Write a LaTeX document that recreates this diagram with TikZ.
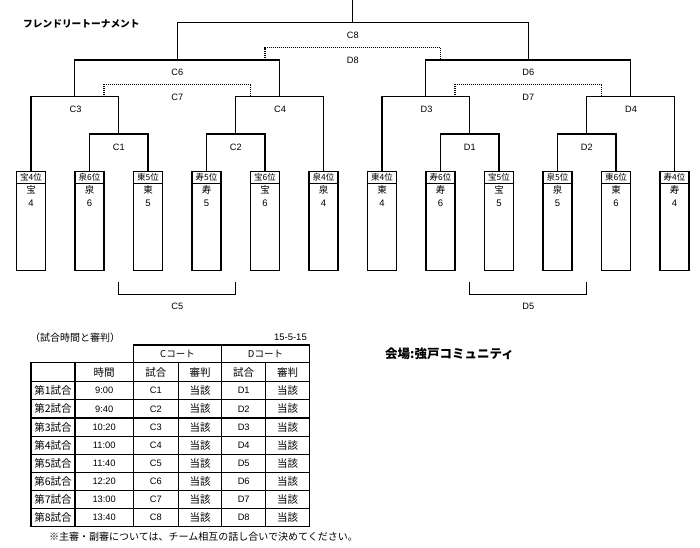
\documentclass[tikz,border=0pt]{standalone}
\usepackage{fontspec}
\setmainfont{Liberation Sans}
\newfontfamily\jp{Noto Sans CJK JP}
\usetikzlibrary{calc}
\newcommand{\fsz}[1]{\fontsize{#1}{#1}\selectfont}
\begin{document}
\begin{tikzpicture}[x=1pt,y=-1pt,
  br/.style={line width=1.1pt},
  dotl/.style={line width=1.1pt, dash pattern=on 1.1pt off 0.9pt},
  lab/.style={inner sep=0pt, font=\fsz{9.2}},
  hdr/.style={draw, line width=1pt, minimum width=29pt, minimum height=12.3pt, inner sep=0pt, anchor=north, font=\jp\fsz{8.5}},
  body/.style={draw, line width=1.2pt, minimum width=29pt, minimum height=99pt, inner sep=0pt, anchor=north},
  bt/.style={inner sep=0pt, font=\jp\fsz{9.5}},
  bn/.style={inner sep=0pt, font=\fsz{9.5}},
  thk/.style={line width=1.5pt},
  thn/.style={line width=0.9pt},
  tj/.style={inner sep=0pt, font=\jp\fsz{10.5}},
  tl/.style={inner sep=0pt, font=\fsz{9.3}}
]
\useasboundingbox (0,0) rectangle (700,547);

% title
\node[anchor=west, inner sep=0pt, font=\jp\bfseries\fsz{9.7}] (title) at (23,24) {フレンドリートーナメント};

% team boxes
\foreach \i/\h/\t/\n in {0/宝4位/宝/4, 1/泉6位/泉/6, 2/東5位/東/5, 3/寿5位/寿/5, 4/宝6位/宝/6, 5/泉4位/泉/4, 6/東4位/東/4, 7/寿6位/寿/6, 8/宝5位/宝/5, 9/泉5位/泉/5, 10/東6位/東/6, 11/寿4位/寿/4}{
  \node[body] (b\i) at ({31+58.5*\i},171) {};
  \node[hdr] (h\i) at (b\i.north) {\h};
  \node[bt] (t\i) at ($(b\i.north)+(0,19)$) {\t};
  \node[bn] (n\i) at ($(b\i.north)+(0,32)$) {\n};
}

% bracket junctions
\coordinate (m1) at (118.75,134);
\coordinate (m2) at (235.75,134);
\coordinate (m3) at (74.875,96.7);
\coordinate (m4) at (279.625,96.7);
\coordinate (m6) at (177.25,60);
\coordinate (d1) at (469.75,134);
\coordinate (d2) at (586.75,134);
\coordinate (d3) at (425.875,96.7);
\coordinate (d4) at (630.625,96.7);
\coordinate (d6) at (528.25,60);
\coordinate (top) at (352.75,22.5);
\coordinate (topend) at (352.75,-1);

\draw[br] (b1.north) |- (m1) -| (b2.north);
\draw[br] (b3.north) |- (m2) -| (b4.north);
\draw[br] (b0.north) |- (m3) -| (m1);
\draw[br] (m2) |- (m4) -| (b5.north);
\draw[br] (m3) |- (m6) -| (m4);
\draw[br] (b7.north) |- (d1) -| (b8.north);
\draw[br] (b9.north) |- (d2) -| (b10.north);
\draw[br] (b6.north) |- (d3) -| (d1);
\draw[br] (d2) |- (d4) -| (b11.north);
\draw[br] (d3) |- (d6) -| (d4);
\draw[br] (m6) |- (top) -| (d6);
\draw[br] (top) -- (topend);

% dotted (consolation) brackets
\coordinate (c7l) at (103.95,96.7);
\coordinate (c7m) at (177.25,84.3);
\coordinate (c7r) at (250.55,96.7);
\coordinate (d7l) at (454.95,96.7);
\coordinate (d7m) at (528.25,84.3);
\coordinate (d7r) at (601.55,96.7);
\coordinate (d8l) at (265,60);
\coordinate (d8m) at (352.75,47.7);
\coordinate (d8r) at (440.5,60);
\draw[dotl] (c7l) |- (c7m) -| (c7r);
\draw[dotl] (d7l) |- (d7m) -| (d7r);
\draw[dotl] (d8l) |- (d8m) -| (d8r);

% C5 / D5 brackets
\coordinate (c5a) at (118.75,282.3);
\coordinate (c5m) at (177.25,294.3);
\coordinate (c5b) at (235.75,282.3);
\coordinate (d5a) at (469.75,282.3);
\coordinate (d5m) at (528.25,294.3);
\coordinate (d5b) at (586.75,282.3);
\draw[br] (c5a) |- (c5m) -| (c5b);
\draw[br] (d5a) |- (d5m) -| (d5b);

% match labels
\node[lab] (lC8) at (352.75,35) {C8};
\node[lab] (lD8) at (352.75,60) {D8};
\node[lab] (lC6) at (177.25,72) {C6};
\node[lab] (lC7) at (177.25,97) {C7};
\node[lab] (lC3) at (75.5,109) {C3};
\node[lab] (lC4) at (280,109) {C4};
\node[lab] (lC1) at (118.75,147) {C1};
\node[lab] (lC2) at (235.75,147) {C2};
\node[lab] (lD6) at (528.25,72) {D6};
\node[lab] (lD7) at (528.25,97) {D7};
\node[lab] (lD3) at (426.5,109) {D3};
\node[lab] (lD4) at (631,109) {D4};
\node[lab] (lD1) at (469.75,147) {D1};
\node[lab] (lD2) at (586.75,147) {D2};
\node[lab] (lC5) at (177.25,306.7) {C5};
\node[lab] (lD5) at (528.25,306.7) {D5};

% venue
\node[anchor=west, inner sep=0pt, font=\jp\bfseries\fsz{12.5}] (venue) at (385,354) {会場:強戸コミュニティ};

% table caption
\node[anchor=west, inner sep=0pt, font=\jp\fsz{10}] (tcap) at (30,337.3) {（試合時間と審判）};
\node[anchor=east, inner sep=0pt, font=\fsz{9.5}] (tdate) at (307,337.3) {15-5-15};

% table grid
\foreach \k in {1,...,7}{
  \draw[line width=1.1pt] (31,{381.7+18.125*\k}) -- (309.3,{381.7+18.125*\k});
}
\draw[line width=1.1pt] (31,381.7) -- (309.3,381.7);
\draw[thn] (178.3,362.7) -- (178.3,526.7);
\draw[thn] (265.7,362.7) -- (265.7,526.7);
\draw[thk] (133.3,362.7) -- (309.3,362.7);
\draw[thk] (75,362.7) -- (75,526.7);
\draw[thk] (221.7,345) -- (221.7,526.7);
\draw[thk] (133.3,345) rectangle (309.3,362.7);
\draw[thk] (31,362.7) rectangle (309.3,526.7);
\draw[thk] (133.3,345) -- (133.3,526.7);

% table header texts
\node[tj, font=\jp\fsz{9.5}] (hc) at (177.5,353.8) {Cコート};
\node[tj, font=\jp\fsz{9.5}] (hd) at (265.5,353.8) {Dコート};
\node[tj] (h1) at (104.2,372.2) {時間};
\node[tj] (h2) at (155.8,372.2) {試合};
\node[tj] (h3) at (200,372.2) {審判};
\node[tj] (h4) at (243.7,372.2) {試合};
\node[tj] (h5) at (287.5,372.2) {審判};

\foreach \k/\tm in {1/9:00, 2/9:40, 3/10:20, 4/11:00, 5/11:40, 6/12:20, 7/13:00, 8/13:40}{
  \pgfmathsetmacro\yy{381.7+18.125*(\k-0.5)}
  \node[tj] (g\k) at (53,\yy) {第\k{}試合};
  \node[tl] (tm\k) at (104.2,\yy) {\tm};
  \node[tl] (cm\k) at (155.8,\yy) {C\k};
  \node[tj] (cr\k) at (200,\yy) {当該};
  \node[tl] (dm\k) at (243.7,\yy) {D\k};
  \node[tj] (dr\k) at (287.5,\yy) {当該};
}

% footnote
\node[inner sep=0pt, font=\jp\fsz{10}] (note) at (203.5,536.5) {※主審・副審については、チーム相互の話し合いで決めてください。};
\end{tikzpicture}
\end{document}
